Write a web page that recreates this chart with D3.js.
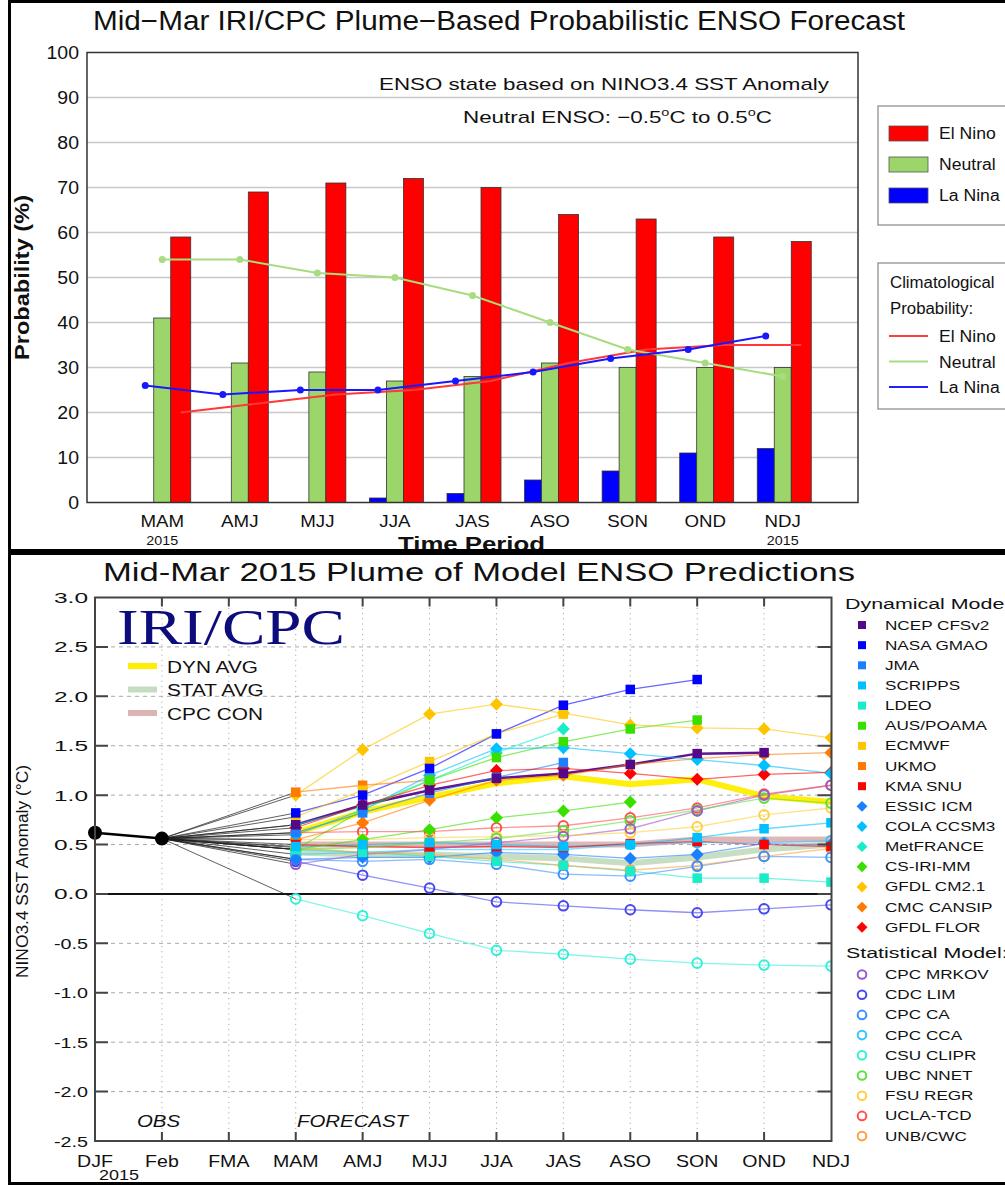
<!DOCTYPE html>
<html><head><meta charset="utf-8">
<script src="https://cdn.jsdelivr.net/npm/d3@7"></script>
<style>
body{margin:0;background:#fff}
svg{display:block}
text{font-family:"Liberation Sans",Arial,Helvetica,sans-serif;fill:#111}
</style>
</head><body>
<svg id="chart" width="1005" height="1186"></svg>
<script>
// ---------- Probabilistic forecast (top panel) ----------
const periods      = ["MAM","AMJ","MJJ","JJA","JAS","ASO","SON","OND","NDJ"];
const laNinaProb   = [0, 0, 0, 1, 2, 5, 7, 11, 12];
const neutralProb  = [41, 31, 29, 27, 28, 31, 30, 30, 30];
const elNinoProb   = [59, 69, 71, 72, 70, 64, 63, 59, 58];
const climElNino   = [20, 22, 24, 25, 27, 31, 34, 35, 35];
const climNeutral  = [54, 54, 51, 50, 46, 40, 34, 31, 28];
const climLaNina   = [26, 24, 25, 25, 27, 29, 32, 34, 37];
const probTicks    = [0,10,20,30,40,50,60,70,80,90,100];

// ---------- Model plume (bottom panel) ----------
const months   = ["DJF","Feb","FMA","MAM","AMJ","MJJ","JJA","JAS","ASO","SON","OND","NDJ"];
const observed = [0.62, 0.56];                       // DJF, Feb
const anomTicks = [-2.5,-2.0,-1.5,-1.0,-0.5,0.0,0.5,1.0,1.5,2.0,2.5,3.0];

// forecasts for MAM .. NDJ (null = no forecast)
const ncepCfsv2  = [0.70, 0.90, 1.05, 1.17, 1.22, 1.31, 1.42, 1.43, null];
const nasaGmao   = [0.82, 1.00, 1.27, 1.62, 1.91, 2.07, 2.17, null, null];
const jma        = [0.62, 0.82, 1.02, 1.18, 1.33, null, null, null, null];
const scripps    = [0.48, 0.50, 0.52, 0.50, 0.48, 0.50, 0.57, 0.66, 0.72];
const ldeo       = [0.45, 0.42, 0.38, 0.33, 0.29, 0.23, 0.16, 0.16, 0.12];
const ausPoama   = [0.45, 0.85, 1.15, 1.38, 1.54, 1.67, 1.76, null, null];
const ecmwf      = [0.78, 1.05, 1.34, 1.62, 1.82, null, null, null, null];
const ukmo       = [1.03, 1.10, 1.15, null, null, null, null, null, null];
const kmaSnu     = [0.50, 0.48, 0.47, 0.48, 0.47, 0.51, 0.53, 0.50, 0.48];
const essicIcm   = [0.35, 0.37, 0.37, 0.42, 0.40, 0.36, 0.40, 0.51, 0.50];
const colaCcsm3  = [0.60, 0.85, 1.20, 1.47, 1.48, 1.42, 1.36, 1.30, 1.22];
const metFrance  = [0.70, 0.88, 1.15, 1.43, 1.67, null, null, null, null];
const csIriMm    = [0.45, 0.55, 0.65, 0.77, 0.84, 0.93, null, null, null];
const gfdlCm21   = [1.00, 1.46, 1.82, 1.92, 1.83, 1.71, 1.68, 1.67, 1.58];
const cmcCansip  = [0.55, 0.72, 0.95, 1.15, 1.20, 1.31, 1.37, 1.41, 1.43];
const gfdlFlor   = [0.67, 0.90, 1.10, 1.25, 1.27, 1.22, 1.16, 1.21, 1.23];

const cpcMrkov   = [0.30, 0.40, 0.45, 0.52, 0.58, 0.66, 0.84, 1.00, 1.10];
const cdcLim     = [0.33, 0.19, 0.06, -0.08, -0.12, -0.16, -0.19, -0.15, -0.11];
const cpcCa      = [0.35, 0.33, 0.35, 0.30, 0.20, 0.18, 0.28, 0.38, 0.37];
const cpcCca     = [0.40, 0.42, 0.45, 0.45, 0.45, 0.50, 0.52, 0.52, 0.54];
const csuClipr   = [-0.05, -0.22, -0.40, -0.57, -0.61, -0.66, -0.70, -0.72, -0.73];
const ubcNnet    = [0.45, 0.47, 0.52, 0.56, 0.64, 0.74, 0.85, 0.97, 0.92];
const fsuRegr    = [0.55, 0.55, 0.57, 0.58, 0.59, 0.62, 0.68, 0.80, 0.87];
const uclaTcd    = [0.62, 0.63, 0.63, 0.67, 0.69, 0.77, 0.87, 1.01, 1.10];
const unbCwc     = [0.47, 0.42, 0.40, 0.35, 0.29, 0.24, 0.29, 0.38, 0.46];

const dynAvg     = [0.62, 0.83, 0.98, 1.12, 1.19, 1.11, 1.16, 0.99, 0.93];
const statAvg    = [0.42, 0.40, 0.40, 0.38, 0.36, 0.31, 0.37, 0.45, 0.50];
const cpcCon     = [0.50, 0.50, 0.50, 0.50, 0.50, 0.50, 0.55, 0.55, 0.55];

const dynamicalModels = [
  ["NCEP CFSv2", ncepCfsv2], ["NASA GMAO", nasaGmao], ["JMA", jma], ["SCRIPPS", scripps],
  ["LDEO", ldeo], ["AUS/POAMA", ausPoama], ["ECMWF", ecmwf], ["UKMO", ukmo], ["KMA SNU", kmaSnu],
  ["ESSIC ICM", essicIcm], ["COLA CCSM3", colaCcsm3], ["MetFRANCE", metFrance], ["CS-IRI-MM", csIriMm],
  ["GFDL CM2.1", gfdlCm21], ["CMC CANSIP", cmcCansip], ["GFDL FLOR", gfdlFlor]
];
const statisticalModels = [
  ["CPC MRKOV", cpcMrkov], ["CDC LIM", cdcLim], ["CPC CA", cpcCa], ["CPC CCA", cpcCca],
  ["CSU CLIPR", csuClipr], ["UBC NNET", ubcNnet], ["FSU REGR", fsuRegr], ["UCLA-TCD", uclaTcd],
  ["UNB/CWC", unbCwc]
];
const averages = [["DYN AVG", dynAvg], ["STAT AVG", statAvg], ["CPC CON", cpcCon]];

// ---------- styles ----------
const modelStyle = {
  "NCEP CFSv2": {c:"#55088a", m:"square"}, "NASA GMAO": {c:"#0000ff", m:"square"},
  "JMA": {c:"#1a80ff", m:"square"}, "SCRIPPS": {c:"#00c0ff", m:"square"},
  "LDEO": {c:"#18ecc8", m:"square"}, "AUS/POAMA": {c:"#38e000", m:"square"},
  "ECMWF": {c:"#ffc400", m:"square"}, "UKMO": {c:"#ff7a00", m:"square"},
  "KMA SNU": {c:"#ff0000", m:"square"},
  "ESSIC ICM": {c:"#1a80ff", m:"diamond"}, "COLA CCSM3": {c:"#00c0ff", m:"diamond"},
  "MetFRANCE": {c:"#18ecc8", m:"diamond"}, "CS-IRI-MM": {c:"#38e000", m:"diamond"},
  "GFDL CM2.1": {c:"#ffc400", m:"diamond"}, "CMC CANSIP": {c:"#ff7a00", m:"diamond"},
  "GFDL FLOR": {c:"#ff0000", m:"diamond"},
  "CPC MRKOV": {c:"#9a5cc8", m:"circle"}, "CDC LIM": {c:"#4848f0", m:"circle"},
  "CPC CA": {c:"#3c90ff", m:"circle"}, "CPC CCA": {c:"#30c8ff", m:"circle"},
  "CSU CLIPR": {c:"#30f0d8", m:"circle"}, "UBC NNET": {c:"#5ce040", m:"circle"},
  "FSU REGR": {c:"#ffd040", m:"circle"}, "UCLA-TCD": {c:"#ff5050", m:"circle"},
  "UNB/CWC": {c:"#ffa040", m:"circle"}
};
const avgStyle = {"DYN AVG":"#ffee00", "STAT AVG":"#c4dcc0", "CPC CON":"#dcb4b4"};

const svg = d3.select("#chart");
svg.append("rect").attr("width",1005).attr("height",1186).attr("fill","#fff");

// text helpers: widen glyphs by a factor, or fit to a given length
function widen(sel, k){
  sel.each(function(){
    const w = this.getComputedTextLength();
    d3.select(this).attr("textLength", w*k).attr("lengthAdjust","spacingAndGlyphs");
  });
  return sel;
}
function fit(sel, w){ return sel.attr("textLength", w).attr("lengthAdjust","spacingAndGlyphs"); }

// =====================================================================
// Top panel: bar chart of category probabilities
// =====================================================================
const P = {left:87, right:858, top:52.5, bottom:502.5};
const xP = d3.scalePoint().domain(periods).range([P.left, P.right]).padding(0.97);
const yP = d3.scaleLinear().domain([0,100]).range([P.bottom, P.top]);
const gTop = svg.append("g");

fit(gTop.append("text").attr("x",93).attr("y",30).attr("font-size",27)
  .text("Mid\u2212Mar IRI/CPC Plume\u2212Based Probabilistic ENSO Forecast"), 812);

gTop.append("rect").attr("x",P.left).attr("y",P.top).attr("width",P.right-P.left).attr("height",P.bottom-P.top)
  .attr("fill","#fff");
gTop.append("g").selectAll("line").data(probTicks.filter(v=>v>0&&v<100)).join("line")
  .attr("x1",P.left).attr("x2",P.right).attr("y1",d=>yP(d)).attr("y2",d=>yP(d))
  .attr("stroke","#c8c8c8").attr("stroke-width",1.3);

widen(gTop.append("g").selectAll("text").data(probTicks).join("text")
  .attr("x",79).attr("y",d=>yP(d)+6.5).attr("text-anchor","end").attr("font-size",18)
  .text(d=>d), 1.08);

// explanatory text
fit(gTop.append("text").attr("x",379).attr("y",90).attr("font-size",17)
  .text("ENSO state based on NINO3.4 SST Anomaly"), 450);
const nt = gTop.append("text").attr("x",463).attr("y",123).attr("font-size",17);
nt.append("tspan").text("Neutral ENSO: \u22120.5");
nt.append("tspan").attr("dy",-7).attr("font-size",11).text("o");
nt.append("tspan").attr("dy",7).text("C to 0.5");
nt.append("tspan").attr("dy",-7).attr("font-size",11).text("o");
nt.append("tspan").attr("dy",7).text("C");
fit(nt, 309);

// bars
const barSpec = [
  {vals:laNinaProb,  x0:-25.5, x1:-8.5, fill:"#0000ff"},
  {vals:neutralProb, x0:-8.5,  x1:8.5,  fill:"#9cd66a"},
  {vals:elNinoProb,  x0:8.5,   x1:28.5, fill:"#ff0000"}
];
barSpec.forEach(s=>{
  gTop.append("g").selectAll("rect").data(periods.map((p,i)=>({p, v:s.vals[i]})).filter(d=>d.v>0)).join("rect")
    .attr("x",d=>xP(d.p)+s.x0).attr("width",s.x1-s.x0)
    .attr("y",d=>yP(d.v)).attr("height",d=>yP(0)-yP(d.v))
    .attr("fill",s.fill).attr("stroke","#333").attr("stroke-width",0.8);
});

// climatological probability lines
const climSpec = [
  {vals:climElNino,  dx:18.5, color:"#ff3838", dots:false},
  {vals:climNeutral, dx:0,    color:"#a8dc80", dots:true},
  {vals:climLaNina,  dx:-17,  color:"#1818ff", dots:true}
];
climSpec.forEach(s=>{
  const pts = periods.map((p,i)=>[xP(p)+s.dx, yP(s.vals[i])]);
  gTop.append("path").attr("d",d3.line()(pts)).attr("fill","none").attr("stroke",s.color).attr("stroke-width",2);
  if (s.dots) gTop.append("g").selectAll("circle").data(pts).join("circle")
    .attr("cx",d=>d[0]).attr("cy",d=>d[1]).attr("r",3.5).attr("fill",s.color);
});

gTop.append("rect").attr("x",P.left).attr("y",P.top).attr("width",P.right-P.left).attr("height",P.bottom-P.top)
  .attr("fill","none").attr("stroke","#333").attr("stroke-width",1.5);

widen(gTop.append("g").selectAll("text").data(periods).join("text")
  .attr("x",d=>xP(d)).attr("y",527).attr("text-anchor","middle").attr("font-size",17).text(d=>d), 1.1);
widen(gTop.append("text").attr("x",xP("MAM")).attr("y",545).attr("text-anchor","middle").attr("font-size",13).text("2015"),1.1);
widen(gTop.append("text").attr("x",xP("NDJ")).attr("y",545).attr("text-anchor","middle").attr("font-size",13).text("2015"),1.1);
fit(gTop.append("text").attr("x",398).attr("y",551).attr("font-size",20).attr("font-weight","bold").text("Time Period"),147);
fit(gTop.append("text").attr("transform","translate(29,360) rotate(-90)").attr("font-size",21)
  .attr("font-weight","bold").text("Probability (%)"),165);

// legends (top right)
gTop.append("rect").attr("x",878).attr("y",106).attr("width",200).attr("height",119)
  .attr("fill","#fff").attr("stroke","#888").attr("stroke-width",1.2);
[["El Nino","#ff0000"],["Neutral","#9cd66a"],["La Nina","#0000ff"]].forEach((d,i)=>{
  const y = 126 + i*31;
  gTop.append("rect").attr("x",889).attr("y",y).attr("width",39).attr("height",15)
    .attr("fill",d[1]).attr("stroke","#555").attr("stroke-width",0.8);
  widen(gTop.append("text").attr("x",939).attr("y",y+13).attr("font-size",16).text(d[0]),1.1);
});
gTop.append("rect").attr("x",878).attr("y",263).attr("width",200).attr("height",146)
  .attr("fill","#fff").attr("stroke","#888").attr("stroke-width",1.2);
widen(gTop.append("text").attr("x",890).attr("y",288).attr("font-size",16).text("Climatological"),1.05);
widen(gTop.append("text").attr("x",890).attr("y",314).attr("font-size",16).text("Probability:"),1.05);
[["El Nino","#ff4040"],["Neutral","#a8dc80"],["La Nina","#2020ff"]].forEach((d,i)=>{
  const y = 336 + i*25.5;
  gTop.append("line").attr("x1",889).attr("x2",928).attr("y1",y).attr("y2",y).attr("stroke",d[1]).attr("stroke-width",2);
  widen(gTop.append("text").attr("x",939).attr("y",y+6).attr("font-size",16).text(d[0]),1.1);
});

// =====================================================================
// Bottom panel: plume of model predictions
// =====================================================================
const B = {left:95, right:831.5, top:597.5, bottom:1141};
const xB = d3.scalePoint().domain(months).range([B.left, 831]);
const yB = d3.scaleLinear().domain([-2.5,3]).range([B.bottom, B.top]);
const fc = months.slice(3);
const gB = svg.append("g");

fit(gB.append("text").attr("x",103).attr("y",581).attr("font-size",25)
  .text("Mid-Mar 2015 Plume of Model ENSO Predictions"), 752);

// grid
gB.append("g").selectAll("line").data(anomTicks.filter(v=>v>-2.5&&v<3&&v!==0)).join("line")
  .attr("x1",B.left).attr("x2",B.right).attr("y1",d=>yB(d)).attr("y2",d=>yB(d))
  .attr("stroke","#aaa").attr("stroke-width",1).attr("stroke-dasharray","4,4");
gB.append("g").selectAll("line").data(months.slice(1,11)).join("line")
  .attr("x1",d=>xB(d)).attr("x2",d=>xB(d)).attr("y1",B.top).attr("y2",B.bottom)
  .attr("stroke","#aaa").attr("stroke-width",1).attr("stroke-dasharray","1.2,4");

// IRI/CPC mark and average legend
fit(gB.append("text").attr("x",117).attr("y",644).attr("font-size",50)
  .style("font-family","'Liberation Serif','Times New Roman',serif").style("fill","#0c0c7c").text("IRI/CPC"), 228);
averages.forEach((d,i)=>{
  const y = 666 + i*23.5;
  gB.append("line").attr("x1",128).attr("x2",157).attr("y1",y).attr("y2",y)
    .attr("stroke",avgStyle[d[0]]).attr("stroke-width",6);
  widen(gB.append("text").attr("x",167).attr("y",y+6.5).attr("font-size",16).text(d[0]),1.3);
});

// zero line
gB.append("line").attr("x1",B.left).attr("x2",B.right).attr("y1",yB(0)).attr("y2",yB(0))
  .attr("stroke","#111").attr("stroke-width",2);

// plotted series, clipped to plot area
svg.append("clipPath").attr("id","plumeClip").append("rect")
  .attr("x",B.left).attr("y",B.top).attr("width",B.right-B.left).attr("height",B.bottom-B.top);
const gP = gB.append("g").attr("clip-path","url(#plumeClip)");

const allModels = dynamicalModels.concat(statisticalModels);

// fan lines from last observation to each model's first forecast
gP.append("g").selectAll("line").data(allModels.filter(d=>d[1][0]!=null)).join("line")
  .attr("x1",xB("Feb")).attr("y1",yB(observed[1]))
  .attr("x2",xB("MAM")).attr("y2",d=>yB(d[1][0]))
  .attr("stroke","#222").attr("stroke-width",0.8).attr("opacity",0.9);

// averages
const lineGen = d3.line().defined(d=>d[1]!=null).x(d=>xB(d[0])).y(d=>yB(d[1]));
averages.slice().reverse().forEach(d=>{
  gP.append("path").attr("d",lineGen(fc.map((m,i)=>[m,d[1][i]])))
    .attr("fill","none").attr("stroke",avgStyle[d[0]]).attr("stroke-width",6).attr("opacity",0.95);
});

// model lines
allModels.forEach(d=>{
  const st = modelStyle[d[0]];
  const thick = d[0]==="NCEP CFSv2";
  gP.append("path").attr("d",lineGen(fc.map((m,i)=>[m,d[1][i]])))
    .attr("fill","none").attr("stroke",st.c).attr("stroke-width",thick?2.5:1.3)
    .attr("opacity",thick?0.95:0.6);
});

// markers
function drawMarker(g, kind, color, x, y, s){
  if (kind==="square") {
    g.append("rect").attr("x",x-s/2).attr("y",y-s/2).attr("width",s).attr("height",s).attr("fill",color);
  } else if (kind==="diamond") {
    const h = s*0.68;
    g.append("path").attr("d",`M${x},${y-h}L${x+h},${y}L${x},${y+h}L${x-h},${y}Z`).attr("fill",color);
  } else {
    g.append("circle").attr("cx",x).attr("cy",y).attr("r",s*0.48).attr("fill","none")
      .attr("stroke",color).attr("stroke-width",2);
  }
}
allModels.slice().reverse().forEach(d=>{
  const st = modelStyle[d[0]];
  fc.forEach((m,i)=>{
    if (d[1][i]==null) return;
    drawMarker(gP, st.m, st.c, xB(m), yB(d[1][i]), st.m==="circle"?10:9.5);
  });
});

// observations
gB.append("path").attr("d",d3.line()(observed.map((v,i)=>[xB(months[i]),yB(v)])))
  .attr("stroke","#000").attr("stroke-width",2.5).attr("fill","none");
gB.append("g").selectAll("circle").data(observed).join("circle")
  .attr("cx",(d,i)=>xB(months[i])).attr("cy",d=>yB(d)).attr("r",7).attr("fill","#000");

// frame and ticks
gB.append("rect").attr("x",B.left).attr("y",B.top).attr("width",B.right-B.left).attr("height",B.bottom-B.top)
  .attr("fill","none").attr("stroke","#444").attr("stroke-width",2);
gB.append("g").selectAll("path").data(months.slice(1,11)).join("path")
  .attr("d",d=>`M${xB(d)},${B.top}v9M${xB(d)},${B.bottom}v-9`).attr("stroke","#444").attr("stroke-width",2);
gB.append("g").selectAll("path").data(anomTicks.filter(v=>v>-2.5&&v<3)).join("path")
  .attr("d",d=>`M${B.left},${yB(d)}h13M${B.right},${yB(d)}h-14`).attr("stroke","#444").attr("stroke-width",2);

fit(gB.append("g").selectAll("text").data(anomTicks).join("text")
  .attr("x",88).attr("y",d=>yB(d)+5.5).attr("text-anchor","end").attr("font-size",15)
  .text(d=>d.toFixed(1)), 34);
widen(gB.append("g").selectAll("text").data(months).join("text")
  .attr("x",d=>xB(d)).attr("y",1167).attr("text-anchor","middle").attr("font-size",17).text(d=>d),1.15);
widen(gB.append("text").attr("x",119).attr("y",1180).attr("text-anchor","middle").attr("font-size",15).text("2015"),1.2);
fit(gB.append("text").attr("transform","translate(28,978) rotate(-90)").attr("font-size",16)
  .text("NINO3.4 SST Anomaly (\u00B0C)"), 213);

widen(gB.append("text").attr("x",137).attr("y",1127).attr("font-size",17).attr("font-style","italic").text("OBS"),1.2);
widen(gB.append("text").attr("x",297).attr("y",1127).attr("font-size",17).attr("font-style","italic").text("FORECAST"),1.2);

// model legend (right)
widen(gB.append("text").attr("x",845).attr("y",609).attr("font-size",15.5).text("Dynamical Models:"),1.38);
dynamicalModels.forEach((d,i)=>{
  const y = 625 + i*20.15, st = modelStyle[d[0]];
  drawMarker(gB, st.m, st.c, 862, y, 8);
  widen(gB.append("text").attr("x",885).attr("y",y+4.5).attr("font-size",12.5).text(d[0]),1.37);
});
widen(gB.append("text").attr("x",846).attr("y",958).attr("font-size",15.5).text("Statistical Model:"),1.38);
statisticalModels.forEach((d,i)=>{
  const y = 974.5 + i*20.2, st = modelStyle[d[0]];
  drawMarker(gB, st.m, st.c, 862, y, 9);
  widen(gB.append("text").attr("x",885).attr("y",y+4.5).attr("font-size",12.5).text(d[0]),1.37);
});

// panel borders
svg.append("rect").attr("x",9.5).attr("y",1.5).attr("width",1100).attr("height",549)
  .attr("fill","none").attr("stroke","#000").attr("stroke-width",3);
svg.append("rect").attr("x",9.5).attr("y",553.5).attr("width",1100).attr("height",630)
  .attr("fill","none").attr("stroke","#000").attr("stroke-width",3);
</script>
</body></html>
